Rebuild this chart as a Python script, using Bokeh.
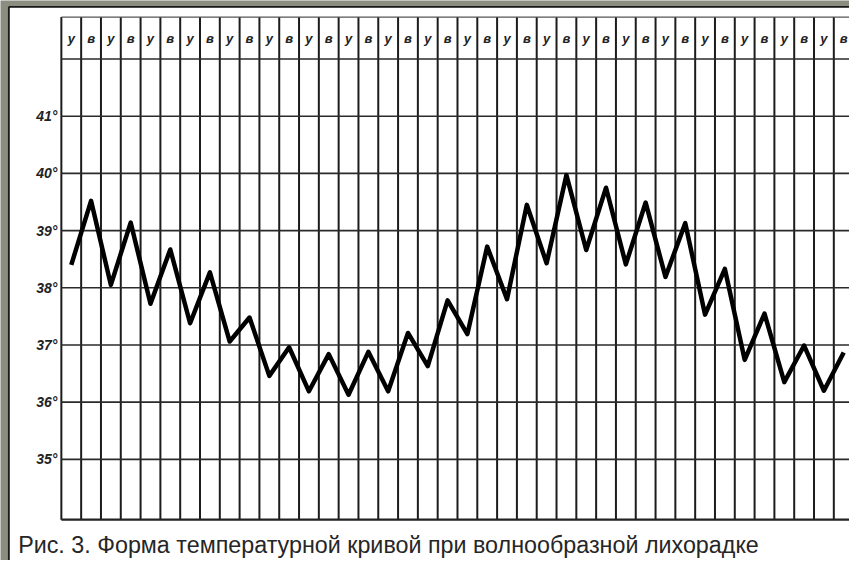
from bokeh.plotting import figure
from bokeh.models import Range1d, ColumnDataSource
from bokeh.core.properties import value
from bokeh.embed import file_html
from bokeh.resources import INLINE

# ---------------- data ----------------
slot_labels = ["у", "в"] * 20          # утро / вечер, 20 days
slots = list(range(len(slot_labels)))
temps = [38.40, 39.52, 38.05, 39.14, 37.72, 38.67, 37.38, 38.27, 37.06, 37.48,
         36.46, 36.96, 36.19, 36.84, 36.13, 36.88, 36.19, 37.21, 36.63, 37.78,
         37.19, 38.72, 37.80, 39.45, 38.43, 39.97, 38.66, 39.75, 38.41, 39.49,
         38.19, 39.13, 37.53, 38.33, 36.74, 37.55, 36.35, 36.99, 36.20, 36.87]
y_ticks = [35, 36, 37, 38, 39, 40, 41]
y_tick_labels = ["35°", "36°", "37°", "38°", "39°", "40°", "41°"]
caption = "Рис. 3. Форма температурной кривой при волнообразной лихорадке"

# ---------------- layout helpers (reference-image pixel geometry) ----------------
W, H = 849, 560
REF_W, REF_H = 865, 576
GX0, CW = 62.0, 20.18          # x of grid left, cell width (ref px)
PY41, PPD = 119.0, 58.83       # y of 41° line, px per degree (ref px)


def X(px):
    return (px - GX0) / CW


def T(py):
    return 41 - (py - PY41) / PPD


x0, x1 = X(0), X(REF_W)
y0, y1 = T(REF_H), T(0)
g_top, g_bot = T(17), T(534)
header_bot = 42

p = figure(width=W, height=H, output_backend="svg", toolbar_location=None,
           x_range=Range1d(x0, x1), y_range=Range1d(y0, y1),
           min_border=0, x_axis_type=None, y_axis_type=None)
p.grid.visible = False
p.outline_line_color = None
p.background_fill_color = "#8b8d81"
p.border_fill_color = "#8b8d81"

# white sheet inside the grey scan frame
p.quad(left=[X(9)], right=[x1 + 1], bottom=[y0 - 1], top=[T(7)],
       fill_color="white", line_color=None)
# dark edge of the sheet (left and top)
p.segment(x0=[X(8.5), X(8.5)], x1=[X(8.5), x1 + 1], y0=[y0 - 1, T(6.5)],
          y1=[T(6.5), T(6.5)], line_color="#1a1a1a", line_width=1.8)

# vertical grid lines
vx = list(range(len(slots) + 1))
p.segment(x0=vx, x1=vx, y0=[g_bot] * len(vx), y1=[g_top] * len(vx),
          line_color="#1c1c1c", line_width=2)

# horizontal grid lines
hy = y_ticks + [header_bot]
p.segment(x0=[0] * len(hy), x1=[x1 + 1] * len(hy), y0=hy, y1=hy,
          line_color="#2a2a2a", line_width=1.6)
# top and bottom borders of the sheet
p.segment(x0=[0, 0], x1=[x1 + 1, x1 + 1], y0=[g_top, g_bot], y1=[g_top, g_bot],
          line_color=["#555555", "#222222"], line_width=[1.2, 2.4])

# header labels
hsrc = ColumnDataSource(dict(x=[s + 0.5 for s in slots],
                             y=[(header_bot + g_top) / 2] * len(slots),
                             t=slot_labels))
p.text(x="x", y="y", text="t", source=hsrc, text_align="center",
       text_baseline="middle", text_font=value("Liberation Sans"),
       text_font_style="bold italic", text_font_size="13px", text_color="#222222")

# y tick labels
ysrc = ColumnDataSource(dict(x=[X(58)] * len(y_ticks), y=y_ticks, t=y_tick_labels))
p.text(x="x", y="y", text="t", source=ysrc, text_align="right",
       text_baseline="middle", text_font=value("Liberation Sans"),
       text_font_style="bold italic", text_font_size="14px", text_color="#222222")

# temperature curve
csrc = ColumnDataSource(dict(x=[s + 0.5 for s in slots], y=temps))
p.line(x="x", y="y", source=csrc, line_color="black", line_width=4.5,
       line_join="round")

# caption (kept fully inside the picture)
p.text(x=[X(18)], y=[T(560)], text=[caption], text_align="left",
       text_baseline="alphabetic", text_font=value("Liberation Sans"),
       text_font_size="23.3px", text_color="#262626")

open("out.html", "w").write(file_html(p, INLINE))
